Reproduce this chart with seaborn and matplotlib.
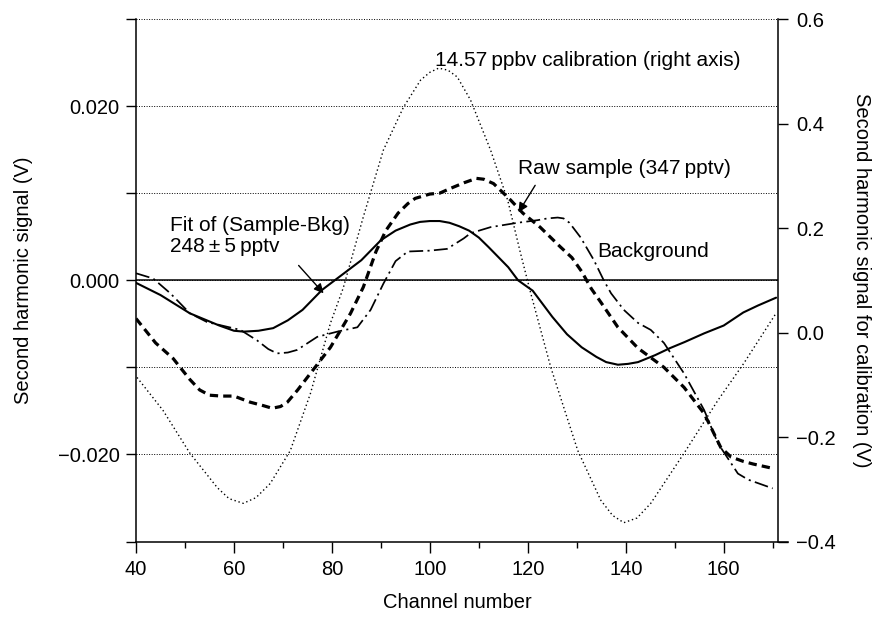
import matplotlib
matplotlib.use("Agg")
import matplotlib.pyplot as plt
import matplotlib.ticker as mticker
import numpy as np
import pandas as pd
import seaborn as sns

# ---------------- data ----------------
fit_x = [40, 45, 51, 57, 60, 62, 65, 68, 71, 74, 78, 82, 86, 90, 93, 96, 98,
         100, 102, 104, 106, 108, 110, 112, 116, 118, 121, 125, 128, 131, 134,
         136, 138.4, 140.5, 142.5, 146, 149, 152, 156, 160, 164, 167, 170.7]
fit_y = [-0.0003, -0.0017, -0.0038, -0.0052, -0.0058, -0.0059, -0.0058, -0.0055,
         -0.0046, -0.0034, -0.0011, 0.0006, 0.0023, 0.0046, 0.0057, 0.0064,
         0.0067, 0.0068, 0.0068, 0.0066, 0.0062, 0.0057, 0.0049, 0.0038, 0.0015,
         0.0000, -0.0012, -0.0042, -0.0062, -0.0077, -0.0088, -0.0094, -0.0097,
         -0.0096, -0.0094, -0.0086, -0.0078, -0.0071, -0.0061, -0.0052, -0.0037,
         -0.0029, -0.0020]

raw_x = [40, 44, 47.6, 49, 51, 53, 55, 57.5, 60, 63.3, 66, 67.8, 69.5, 70.9, 73,
         75.6, 79.7, 83.8, 86.4, 89, 91, 93.5, 95.5, 97, 100, 102, 104, 107,
         109.5, 111, 113, 116.5, 119, 122.5, 126.7, 129, 131, 133, 135, 138.4,
         142.5, 147.8, 151.9, 156, 157.4, 159.4, 161.5, 164, 166, 170]
raw_y = [-0.0044, -0.0072, -0.0090, -0.0100, -0.0114, -0.0126, -0.0132, -0.0133,
         -0.0133, -0.0140, -0.0144, -0.0147, -0.0145, -0.0140, -0.0126, -0.0107,
         -0.0077, -0.0038, -0.0008, 0.0033, 0.0057, 0.0077, 0.0088, 0.0094,
         0.0099, 0.0100, 0.0105, 0.0112, 0.0117, 0.0116, 0.0111, 0.0092, 0.0077,
         0.0061, 0.0038, 0.0026, 0.0010, -0.0010, -0.0026, -0.0054, -0.0078,
         -0.0100, -0.0123, -0.0153, -0.0169, -0.0192, -0.0203, -0.0208, -0.0211,
         -0.0216]

bkg_x = [40, 43.5, 47, 51, 54.5, 59.8, 61.3, 64.7, 67, 68.8, 71, 72.9, 77, 81.1,
         85.2, 87.9, 90.5, 93, 95.5, 100, 103.5, 106.9, 108.3, 112.4, 117.9, 122,
         124, 126.1, 127.3, 128.5, 130.8, 133.5, 135.5, 137, 139.6, 142.5, 145.1,
         147.8, 151.9, 156, 158.8, 162.9, 165, 167, 170]
bkg_y = [0.0008, 0.0002, -0.0015, -0.0038, -0.0048, -0.0055, -0.0057, -0.0069,
         -0.0079, -0.0084, -0.0083, -0.0080, -0.0065, -0.0059, -0.0054, -0.0034,
         -0.0004, 0.0022, 0.0033, 0.0034, 0.0036, 0.0048, 0.0054, 0.0061, 0.0066,
         0.0069, 0.0071, 0.0072, 0.0071, 0.0066, 0.0049, 0.0023, 0.0000, -0.0015,
         -0.0034, -0.0049, -0.0057, -0.0072, -0.0107, -0.0149, -0.0187, -0.0222,
         -0.0229, -0.0233, -0.0239]

cal_x = [40.2, 45.5, 51, 56.6, 59, 61.9, 64.5, 67.4, 71.5, 75.6, 79.7, 82.3,
         86.4, 90.5, 94.6, 98.1, 100, 101.8, 103.7, 105.6, 108.3, 112.4, 115.9,
         118.5, 120.6, 124.7, 130.2, 134.9, 137.3, 139.6, 142.3, 145.1, 151.9,
         158.8, 164.1, 170.7]
cal_y = [-0.086, -0.149, -0.231, -0.297, -0.318, -0.327, -0.316, -0.289, -0.226,
         -0.117, 0.018, 0.085, 0.221, 0.349, 0.431, 0.483, 0.498, 0.506, 0.502,
         0.489, 0.445, 0.349, 0.253, 0.152, 0.075, -0.067, -0.226, -0.321,
         -0.350, -0.364, -0.355, -0.327, -0.231, -0.130, -0.059, 0.037]

x_ticks_major = [40, 60, 80, 100, 120, 140, 160]
left_label = "Second harmonic signal (V)"
right_label = "Second harmonic signal for calibration (V)"
x_label = "Channel number"
cal_text = "14.57\u2009ppbv calibration (right axis)"
raw_text = "Raw sample (347\u2009pptv)"
bkg_text = "Background"
fit_text1 = "Fit of (Sample-Bkg)"
fit_text2 = "248\u2009\u00b1\u20095\u2009pptv"

# ---------------- style ----------------
sns.set_style("ticks")
plt.rcParams["font.family"] = ["Liberation Sans", "DejaVu Sans"]
plt.rcParams["axes.unicode_minus"] = True
for key in ["text.color", "axes.labelcolor", "xtick.color", "ytick.color",
            "axes.edgecolor"]:
    plt.rcParams[key] = "black"

fig = plt.figure(figsize=(8.76, 6.19), dpi=100)
ax = fig.add_axes([0.1553, 0.1252, 0.7329, 0.8441])
ax2 = ax.twinx()

df_fit = pd.DataFrame({"channel": fit_x, "signal": fit_y})
df_raw = pd.DataFrame({"channel": raw_x, "signal": raw_y})
df_bkg = pd.DataFrame({"channel": bkg_x, "signal": bkg_y})
df_cal = pd.DataFrame({"channel": cal_x, "signal": cal_y})

sns.lineplot(data=df_fit, x="channel", y="signal", ax=ax, color="black",
             lw=1.5, estimator=None, sort=True)
sns.lineplot(data=df_raw, x="channel", y="signal", ax=ax, color="black",
             lw=2.3, linestyle=(0, (2.6, 1.6)), estimator=None, sort=True)
sns.lineplot(data=df_bkg, x="channel", y="signal", ax=ax, color="black",
             lw=1.25, linestyle=(0, (8, 2.5, 1.2, 2.5)), estimator=None, sort=True)
sns.lineplot(data=df_cal, x="channel", y="signal", ax=ax2, color="black",
             lw=1.0, linestyle=(0, (1, 2)), estimator=None, sort=True)

# ---------------- axes ----------------
ax.set_xlim(40, 171.1)
ax.set_ylim(-0.030, 0.030)
ax2.set_ylim(-0.4, 0.6)

ax.xaxis.set_major_locator(mticker.FixedLocator(x_ticks_major))
ax.xaxis.set_minor_locator(mticker.MultipleLocator(10))
ax.yaxis.set_major_locator(mticker.MultipleLocator(0.02))
ax.yaxis.set_minor_locator(mticker.MultipleLocator(0.01))
ax2.yaxis.set_major_locator(mticker.MultipleLocator(0.2))


def fmt_left(v, p):
    if abs(v) < 1e-12:
        v = 0.0
    return f"{v:.3f}".replace("-", "\u2212")


def fmt_right(v, p):
    if abs(v) < 1e-12:
        v = 0.0
    return f"{v:.1f}".replace("-", "\u2212")


ax.yaxis.set_major_formatter(mticker.FuncFormatter(fmt_left))
ax2.yaxis.set_major_formatter(mticker.FuncFormatter(fmt_right))

ax.tick_params(axis="x", which="major", direction="out", length=8, width=1,
               pad=5, labelsize=14.5, colors="black")
ax.tick_params(axis="x", which="minor", direction="out", length=4, width=1,
               colors="black")
ax.tick_params(axis="y", which="both", direction="out", length=7, width=1,
               pad=5, labelsize=14.5, colors="black")
ax2.tick_params(axis="y", which="major", direction="out", length=7, width=1,
                pad=6, labelsize=14.5, colors="black")

ax.grid(False)
ax2.grid(False)
ax.yaxis.grid(True, which="both", linestyle=(0, (1, 1.6)), color="black", lw=0.7)
ax.axhline(0, color="black", lw=1.1, zorder=1.5)

for s in ["top", "right"]:
    ax.spines[s].set_visible(False)
for s in ["top", "left", "bottom"]:
    ax2.spines[s].set_visible(False)
for sp in [ax.spines["left"], ax.spines["bottom"], ax2.spines["right"]]:
    sp.set_linewidth(1.1)
    sp.set_color("black")
ax.spines["bottom"].set_bounds(40, 173.2)

ax.set_xlabel(x_label, fontsize=14.5, color="black")
ax.xaxis.set_label_coords(0.5, -0.098)
ax.set_ylabel(left_label, fontsize=14.5, va="center", ha="center", color="black")
ax.yaxis.set_label_coords(-0.176, 0.5)
ax2.set_ylabel(right_label, fontsize=14.5, rotation=270, va="center",
               ha="center", color="black")
ax2.yaxis.set_label_coords(1.13, 0.5)

# ---------------- annotations ----------------
ax.text(101.1, 0.02457, cal_text, fontsize=15, va="baseline", ha="left")
ax.text(117.9, 0.01217, raw_text, fontsize=15, va="baseline", ha="left")
ax.text(134.2, 0.00264, bkg_text, fontsize=15, va="baseline", ha="left")
ax.text(47.0, 0.0056, fit_text1, fontsize=15, va="baseline", ha="left")
ax.text(47.0, 0.0032, fit_text2, fontsize=15, va="baseline", ha="left")

arrow = dict(arrowstyle="-|>", color="black", lw=1.0, mutation_scale=14,
             shrinkA=0, shrinkB=0)
ax.annotate("", xy=(118.1, 0.0078), xytext=(121.5, 0.0109), arrowprops=arrow)
ax.annotate("", xy=(78.3, -0.0015), xytext=(73.2, 0.0017), arrowprops=arrow)

fig.savefig("out.png", dpi=100)
